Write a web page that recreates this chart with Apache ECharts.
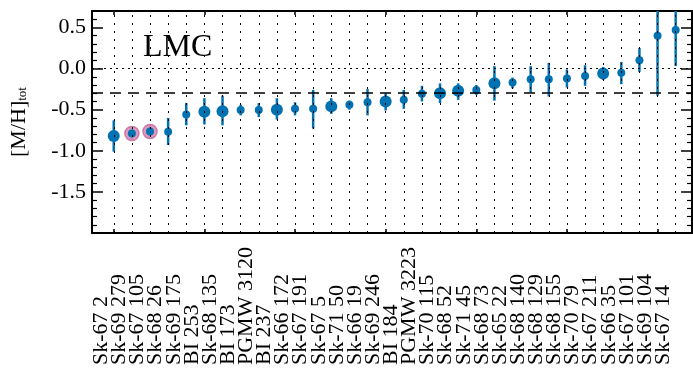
<!DOCTYPE html>
<html>
<head>
<meta charset="utf-8">
<script src="https://cdn.jsdelivr.net/npm/echarts@6/dist/echarts.min.js"></script>
<style>html,body{margin:0;padding:0;background:#fff}#c{width:693px;height:370px}</style>
</head>
<body>
<div id="c"></div>
<script>
const categories = ['Sk-67 2','Sk-69 279','Sk-67 105','Sk-68 26','Sk-69 175','BI 253','Sk-68 135','BI 173',
  'PGMW 3120','BI 237','Sk-66 172','Sk-67 191','Sk-67 5','Sk-71 50','Sk-66 19','Sk-69 246','BI 184',
  'PGMW 3223','Sk-70 115','Sk-68 52','Sk-71 45','Sk-68 73','Sk-65 22','Sk-68 140','Sk-68 129','Sk-68 155',
  'Sk-70 79','Sk-67 211','Sk-66 35','Sk-67 101','Sk-69 104','Sk-67 14'];
const metallicity = [-0.82,-0.79,-0.765,-0.77,-0.56,-0.525,-0.52,-0.505,
  -0.505,-0.50,-0.49,-0.49,-0.46,-0.44,-0.41,-0.40,-0.38,
  -0.305,-0.30,-0.27,-0.26,-0.18,-0.17,-0.13,-0.13,-0.12,
  -0.09,-0.06,-0.05,0.10,0.40,0.47];
const errLow = [-1.01,-0.87,-0.84,-0.93,-0.69,-0.68,-0.69,-0.57,
  -0.59,-0.62,-0.57,-0.73,-0.55,-0.50,-0.57,-0.51,-0.49,
  -0.40,-0.42,-0.38,-0.32,-0.39,-0.24,-0.29,-0.34,-0.23,
  -0.21,-0.14,-0.19,-0.04,-0.33,0.03];
const errHigh = [-0.63,-0.71,-0.68,-0.60,-0.42,-0.36,-0.33,-0.44,
  -0.42,-0.36,-0.41,-0.26,-0.36,-0.39,-0.25,-0.30,-0.26,
  -0.21,-0.18,-0.18,-0.20,0.03,-0.11,0.03,0.07,-0.01,
  0.04,0.02,0.08,0.25,0.85,0.85];
const largeMarkerStars = ['Sk-67 2','BI 253','Sk-68 135','BI 237','Sk-67 5','Sk-69 246','Sk-70 115','Sk-68 52','Sk-68 73','Sk-67 211'];
const highlightedStars = ['Sk-69 279','Sk-67 105'];
const referenceLevels = { solar: 0.0, mean: -0.3 };

const BLUE = '#0072b2', PINK = '#cc79a7';
const FONT = 'Liberation Serif';
const idx = categories.map((c, i) => i);
const majorX = idx.filter(i => i % 5 === 0);
const evenIdx = idx.filter(i => i % 2 === 0);
const oddIdx = idx.filter(i => i % 2 === 1);

const pts = categories.map((c, i) => [i, metallicity[i], largeMarkerStars.includes(c) ? 1 : 0]);
const hl = categories.map((c, i) => [i, metallicity[i], c]).filter(d => highlightedStars.includes(d[2]));
const bars = categories.map((c, i) => [i, errLow[i], errHigh[i]]);

const chart = echarts.init(document.getElementById('c'), null, {renderer: 'canvas'});
const yFmt = v => (Math.abs(v * 2 - Math.round(v * 2)) > 1e-6 || Math.abs(v + 2) < 1e-6) ? '' : v.toFixed(1);
const yCommon = {
  type: 'value', min: -2.0, max: 0.7, interval: 0.5,
  axisLine: {show: true, onZero: false, lineStyle: {color: '#000', width: 2}},
  axisTick: {show: true, inside: true, length: 11, lineStyle: {color: '#000', width: 1.5}},
  minorTick: {show: true, splitNumber: 5, length: 5, lineStyle: {color: '#000', width: 1.2}},
  splitLine: {show: false}
};
const xCommon = {
  type: 'value', min: -1.2, max: 31.9,
  axisLine: {show: true, onZero: false, lineStyle: {color: '#000', width: 2}},
  axisTick: {show: true, inside: true, length: 4, customValues: majorX, lineStyle: {color: '#000', width: 1.5}},
  splitLine: {show: false}
};
const xLabel = values => ({show: true, customValues: values, formatter: v => categories[Math.round(v)] || '',
  rotate: 90, align: 'left', verticalAlign: 'bottom', margin: 132, interval: 0, hideOverlap: false,
  showMinLabel: true, showMaxLabel: true, lineHeight: 25,
  fontFamily: FONT, fontSize: 22, color: '#000'});

chart.setOption({
  animation: false,
  backgroundColor: '#fff',
  title: {text: 'LMC', left: 143, top: 32, padding: 0,
    textStyle: {fontFamily: FONT, fontSize: 32, fontWeight: 'normal', color: '#000'}},
  grid: {left: 88, right: 1, top: 11, bottom: 137, containLabel: false},
  xAxis: [
    Object.assign({}, xCommon, {position: 'bottom', axisLabel: xLabel(evenIdx)}),
    Object.assign({}, xCommon, {position: 'bottom', offset: 0, axisLine: {show: false}, axisTick: {show: false},
      axisLabel: xLabel(oddIdx)}),
    Object.assign({}, xCommon, {position: 'top', axisLabel: {show: false}})
  ],
  yAxis: [
    Object.assign({}, yCommon, {position: 'left',
      name: '{a|[M/H]}{b|tot}', nameLocation: 'middle', nameGap: 62, nameRotate: 90,
      nameTextStyle: {rich: {
        a: {fontFamily: FONT, fontSize: 22, color: '#000'},
        b: {fontFamily: FONT, fontSize: 13, color: '#000', padding: [8, 0, 0, 0]}
      }},
      axisLabel: {show: true, formatter: yFmt, margin: 6, fontFamily: FONT, fontSize: 22, color: '#000'}}),
    Object.assign({}, yCommon, {position: 'right', axisLabel: {show: false}})
  ],
  series: [
    {
      type: 'custom', xAxisIndex: 0, yAxisIndex: 0, z: 2, clip: true,
      data: bars,
      renderItem: function (params, api) {
        const cs = params.coordSys;
        const x = api.coord([api.value(0), 0])[0];
        let y1 = api.coord([0, api.value(1)])[1];
        let y2 = api.coord([0, api.value(2)])[1];
        y1 = Math.min(Math.max(y1, cs.y), cs.y + cs.height);
        y2 = Math.min(Math.max(y2, cs.y), cs.y + cs.height);
        return {type: 'line', shape: {x1: x, y1: y1, x2: x, y2: y2},
          style: {stroke: BLUE, lineWidth: 2.5}};
      },
      markLine: {
        silent: true, symbol: 'none', label: {show: false}, animation: false,
        data: idx.map(i => ({xAxis: i, lineStyle: {color: '#000', width: 1, type: [2, 6]}})).concat([
          {yAxis: referenceLevels.solar, lineStyle: {color: '#000', width: 1.2, type: [2, 4]}},
          {yAxis: referenceLevels.mean, lineStyle: {color: '#000', width: 1.5, type: [11, 7]}}
        ])
      }
    },
    {
      type: 'scatter', xAxisIndex: 0, z: 3, data: hl, symbol: 'circle', symbolSize: 14,
      itemStyle: {color: 'rgba(214,143,184,0.9)', borderColor: PINK, borderWidth: 1.5, opacity: 1}
    },
    {
      type: 'scatter', xAxisIndex: 0, z: 4, data: pts, symbol: 'circle',
      symbolSize: d => d[2] ? 12 : 8,
      itemStyle: {color: BLUE, opacity: 1}
    }
  ]
});
</script>
</body>
</html>
